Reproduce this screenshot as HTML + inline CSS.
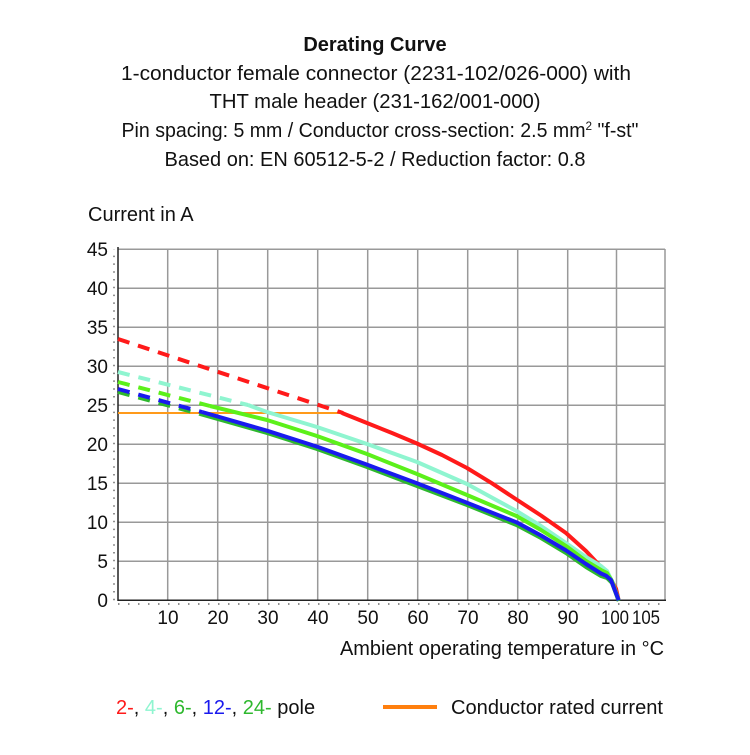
<!DOCTYPE html>
<html><head><meta charset="utf-8"><style>
body{margin:0;background:#fff;}
svg text{font-family:"Liberation Sans Narrow","Liberation Sans",sans-serif;fill:#111;}
</style></head><body>
<svg width="750" height="750" xmlns="http://www.w3.org/2000/svg">
<g font-size="20" text-anchor="middle">
<text x="375" y="51" font-weight="bold">Derating Curve</text>
<text x="376" y="80" textLength="510" lengthAdjust="spacingAndGlyphs">1-conductor female connector (2231-102/026-000) with</text>
<text x="375" y="108" textLength="331" lengthAdjust="spacingAndGlyphs">THT male header (231-162/001-000)</text>
<text x="380" y="137" textLength="517" lengthAdjust="spacingAndGlyphs">Pin spacing: 5 mm / Conductor cross-section: 2.5 mm<tspan font-size="12" dy="-7">2</tspan><tspan dy="7"> "f-st"</tspan></text>
<text x="375" y="166" textLength="421" lengthAdjust="spacingAndGlyphs">Based on: EN 60512-5-2 / Reduction factor: 0.8</text>
</g>
<text x="88" y="221" font-size="20">Current in A</text>
<g stroke="#999" stroke-width="1.5">
<line x1="167.7" y1="249" x2="167.7" y2="600"/><line x1="217.7" y1="249" x2="217.7" y2="600"/>
<line x1="267.7" y1="249" x2="267.7" y2="600"/><line x1="317.7" y1="249" x2="317.7" y2="600"/>
<line x1="367.7" y1="249" x2="367.7" y2="600"/><line x1="417.7" y1="249" x2="417.7" y2="600"/>
<line x1="467.7" y1="249" x2="467.7" y2="600"/><line x1="517.7" y1="249" x2="517.7" y2="600"/>
<line x1="567.7" y1="249" x2="567.7" y2="600"/><line x1="616.5" y1="249" x2="616.5" y2="600"/>
<line x1="665" y1="249" x2="665" y2="600"/>
<line x1="118" y1="249.3" x2="665" y2="249.3"/><line x1="118" y1="288.3" x2="665" y2="288.3"/>
<line x1="118" y1="327.3" x2="665" y2="327.3"/><line x1="118" y1="366.3" x2="665" y2="366.3"/>
<line x1="118" y1="405.3" x2="665" y2="405.3"/><line x1="118" y1="444.3" x2="665" y2="444.3"/>
<line x1="118" y1="483.3" x2="665" y2="483.3"/><line x1="118" y1="522.3" x2="665" y2="522.3"/>
<line x1="118" y1="561.3" x2="665" y2="561.3"/>
</g>
<g stroke="#222" stroke-width="1.5">
<line x1="118" y1="247" x2="118" y2="601"/><line x1="118" y1="600.3" x2="666" y2="600.3"/>
</g>
<g stroke="#222" stroke-width="1" stroke-dasharray="1.5 6.3">
<line x1="114" y1="600.3" x2="114" y2="249"/>
<line x1="118" y1="604" x2="666" y2="604" stroke-dasharray="1.5 8.5"/>
</g>
<g font-size="19" text-anchor="end">
<text x="108" y="256">45</text><text x="108" y="295">40</text><text x="108" y="334">35</text>
<text x="108" y="373">30</text><text x="108" y="412">25</text><text x="108" y="451">20</text>
<text x="108" y="490">15</text><text x="108" y="529">10</text><text x="108" y="568">5</text>
<text x="108" y="607">0</text>
</g>
<g font-size="19" text-anchor="middle">
<text x="168" y="624">10</text><text x="218" y="624">20</text><text x="268" y="624">30</text>
<text x="318" y="624">40</text><text x="368" y="624">50</text><text x="418" y="624">60</text>
<text x="468" y="624">70</text><text x="518" y="624">80</text><text x="568" y="624">90</text>
<text x="615" y="624" textLength="28" lengthAdjust="spacingAndGlyphs">100</text><text x="646" y="624" textLength="28" lengthAdjust="spacingAndGlyphs">105</text>
</g>
<text x="664" y="655" font-size="20" text-anchor="end" textLength="324" lengthAdjust="spacingAndGlyphs">Ambient operating temperature in °C</text>
<g fill="none" stroke-width="4" stroke-linecap="butt" stroke-linejoin="round">
<line x1="118" y1="413" x2="343" y2="413" stroke="#ff9a1a" stroke-width="2"/>
<polyline stroke="#ff1a1a" stroke-dasharray="12 9" points="118,339 343,413"/>
<polyline stroke="#ff1a1a" points="342,413 367,423 392,433 417,443.5 442,455 467,468 492,483.3 516.5,499.5 541,515.5 566,533 586,551 601,567 611,580 616,588.6 618.7,600.3"/>
<polyline stroke="#8ff5d0" stroke-dasharray="12 9" points="118,372 248,405"/>
<polyline stroke="#8ff5d0" points="248,405 267,412 317,427 367,444 417,462 467,484 516.5,511 541,526 566,543 586,557 601,566 607,571 612,581 618.7,600.3"/>
<polyline stroke="#5cf01a" stroke-dasharray="12 9" points="118,382 210,406"/>
<polyline stroke="#5cf01a" points="210,406 267,420 317,436 367,454 417,474 467,495 516.5,516 541,530 566,546 586,561 601,570 607,573 612,581 618.7,600.3"/>
<polyline stroke="#2eb82e" stroke-dasharray="12 9" points="118,392 200,414"/>
<polyline stroke="#2eb82e" points="200,414 267,433 317,449 367,467 417,486 467,505 516.5,525 541,538 566,553 586,567 601,576 607,578 612,583 618.7,601"/>
<polyline stroke="#1a1aee" stroke-dasharray="12 9" points="118,389 202,412"/>
<polyline stroke="#1a1aee" points="202,412 267,430.7 317,446.6 367,464.6 417,483.3 467,502.8 516.5,522.3 541,535.5 566,550.4 586,564 601,573.5 606,575.7 611,580 618.7,600.3"/>
</g>
<text x="116" y="714" font-size="20"><tspan fill="#ff1a1a">2-</tspan>, <tspan fill="#8ff5d0">4-</tspan>, <tspan fill="#2eb82e">6-</tspan>, <tspan fill="#1a1aee">12-</tspan>, <tspan fill="#2eb82e">24-</tspan> pole</text>
<line x1="383" y1="707" x2="437" y2="707" stroke="#ff7f0e" stroke-width="4"/>
<text x="451" y="714" font-size="20" textLength="212" lengthAdjust="spacingAndGlyphs">Conductor rated current</text>
</svg>
</body></html>
